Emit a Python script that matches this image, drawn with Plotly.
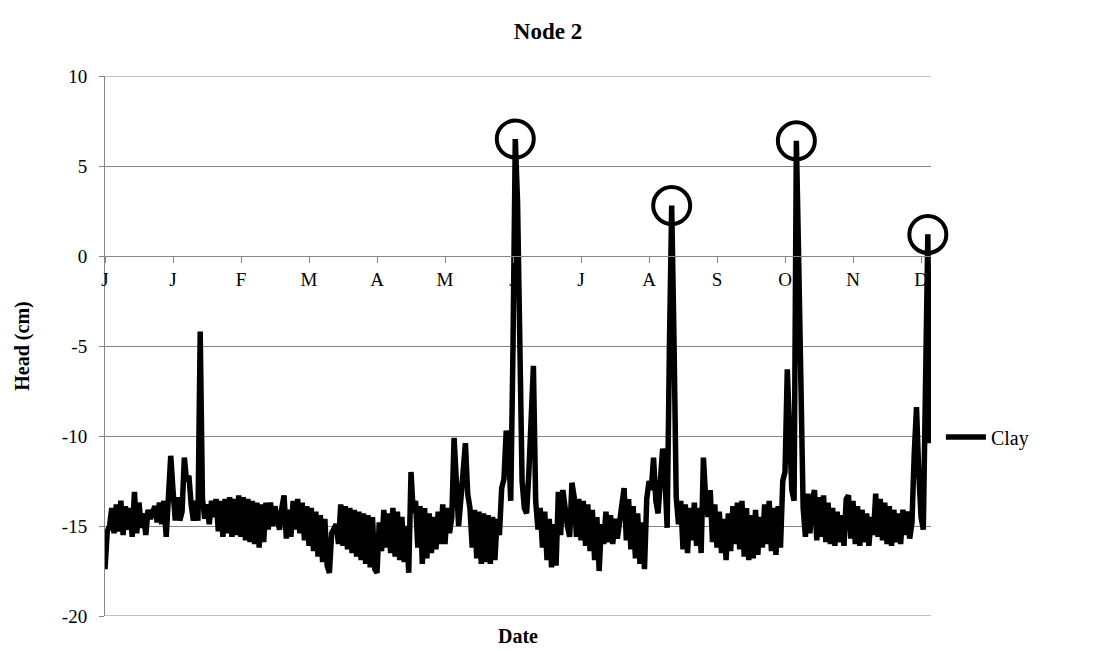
import numpy as np
import plotly.graph_objects as go

# Month initials placed every 30 days along the date axis
month_labels = ["J", "J", "F", "M", "A", "M", "J", "J", "A", "S", "O", "N", "D"]
tick_days = [0, 30, 60, 90, 120, 150, 180, 210, 240, 270, 300, 330, 360]

# Head axis ticks, written with a plain hyphen for negatives
head_ticks = [-20, -15, -10, -5, 0, 5, 10]
head_tick_text = ["-20", "-15", "-10", "-5", "0", "5", "10"]

# Daily pressure head (cm) at node 2 for the clay profile, in 30-day blocks
head_d000 = [-17.4, -15.3, -15.0, -14.0, -15.4, -13.8, -15.3, -13.6, -15.5, -13.9,
             -15.2, -14.0, -15.6, -13.1, -15.4, -13.7, -15.1, -14.3, -15.5, -14.1,
             -14.6, -14.3, -13.9, -14.8, -13.7, -14.9, -13.6, -15.6, -13.5, -11.1]
head_d030 = [-13.0, -14.7, -13.4, -14.7, -14.2, -11.2, -12.5, -12.2, -13.8, -14.7,
             -13.6, -14.7, -4.2, -13.5, -14.6, -13.8, -14.9, -13.6, -14.5, -13.5,
             -15.3, -13.6, -15.6, -13.5, -15.4, -13.4, -15.6, -13.5, -15.5, -13.3]
head_d060 = [-15.6, -13.4, -15.8, -13.5, -15.9, -13.6, -16.0, -13.7, -16.2, -13.8,
             -15.9, -13.7, -15.2, -13.7, -15.0, -13.9, -14.6, -15.2, -14.0, -13.3,
             -15.7, -14.1, -15.6, -13.6, -15.2, -13.5, -15.4, -13.7, -15.8, -13.9]
head_d090 = [-16.1, -14.0, -16.4, -14.2, -16.7, -14.4, -17.0, -14.6, -17.2, -17.6,
             -15.4, -15.1, -14.9, -16.0, -13.8, -16.1, -13.9, -16.3, -14.0, -16.5,
             -14.1, -16.7, -14.2, -16.9, -14.3, -17.1, -14.4, -17.3, -14.5, -17.4]
head_d120 = [-17.6, -14.8, -16.4, -14.1, -16.2, -14.3, -16.5, -14.0, -16.7, -14.2,
             -16.9, -14.5, -17.0, -15.0, -17.6, -12.0, -14.3, -13.6, -16.2, -13.9,
             -17.1, -14.0, -16.8, -14.3, -16.5, -14.5, -16.3, -14.2, -16.0, -13.8]
head_d150 = [-16.0, -14.0, -15.4, -14.5, -10.1, -12.5, -15.0, -13.5, -11.5, -10.4,
             -13.2, -14.0, -16.2, -14.1, -16.8, -14.2, -17.1, -14.3, -17.0, -14.4,
             -17.1, -14.5, -16.9, -14.6, -15.5, -12.9, -12.4, -9.7, -10.6, -13.6]
head_d180 = [-5.0, 6.5, 3.0, -6.0, -12.5, -14.0, -14.3, -12.0, -8.0, -6.1,
             -13.6, -15.2, -14.0, -16.2, -14.2, -16.9, -14.6, -17.3, -14.9, -17.2,
             -13.1, -15.5, -13.0, -14.1, -15.0, -15.6, -12.6, -13.4, -15.6, -13.5]
head_d210 = [-15.8, -13.6, -16.1, -13.8, -16.4, -14.1, -16.9, -14.5, -17.5, -14.9,
             -16.0, -14.2, -15.9, -14.4, -16.0, -14.6, -15.7, -14.8, -13.6, -12.9,
             -15.8, -13.5, -16.3, -13.9, -16.8, -14.3, -17.1, -14.8, -17.4, -13.5]
head_d240 = [-12.5, -13.0, -11.2, -13.6, -14.3, -12.0, -10.7, -12.2, -15.1, -5.0,
             2.8, -4.5, -13.4, -14.9, -13.6, -16.3, -13.8, -16.5, -14.0, -15.8,
             -13.7, -16.1, -14.0, -16.5, -11.2, -13.5, -14.5, -13.0, -15.9, -13.8]
head_d270 = [-16.2, -14.2, -16.5, -14.6, -16.9, -14.3, -16.4, -13.9, -16.0, -13.7,
             -16.3, -13.6, -16.7, -14.0, -16.9, -14.4, -16.8, -14.1, -16.6, -14.5,
             -16.2, -13.8, -16.0, -13.6, -16.4, -14.0, -16.6, -13.9, -16.2, -12.5]
head_d300 = [-12.0, -6.3, -9.5, -13.0, -13.6, 6.4, 0.0, -9.0, -14.0, -15.6,
             -13.2, -15.4, -13.6, -13.0, -15.8, -13.4, -15.6, -13.3, -15.9, -13.7,
             -16.0, -14.0, -16.1, -14.2, -15.9, -14.4, -16.1, -13.5, -13.3, -15.7]
head_d330 = [-13.6, -16.0, -13.9, -16.1, -14.1, -15.9, -14.3, -16.1, -14.5, -15.5,
             -13.2, -15.6, -13.5, -15.8, -13.7, -16.0, -13.9, -16.1, -14.1, -15.9,
             -14.3, -16.0, -14.1, -15.5, -14.2, -15.7, -14.8, -11.0, -8.4, -12.0]
head_d360 = [-14.5, -15.2, -5.0, 1.2, -10.4]

head_clay = np.array(head_d000 + head_d030 + head_d060 + head_d090 + head_d120
                     + head_d150 + head_d180 + head_d210 + head_d240 + head_d270
                     + head_d300 + head_d330 + head_d360)
days = np.arange(len(head_clay))

# Ring the positive-head peaks (local maxima above zero)
prev_v = np.r_[-np.inf, head_clay[:-1]]
next_v = np.r_[head_clay[1:], -np.inf]
peak_idx = np.where((head_clay > 0) & (head_clay >= prev_v) & (head_clay >= next_v))[0]

grid = "#868686"
serif = "Liberation Serif, Times New Roman, serif"

fig = go.Figure()
fig.add_trace(go.Scatter(
    x=days, y=head_clay, mode="lines", name="Clay",
    line=dict(color="black", width=5.5),
))
fig.add_trace(go.Scatter(
    x=days[peak_idx], y=head_clay[peak_idx], mode="markers", showlegend=False,
    marker=dict(symbol="circle-open", size=37, color="black",
                line=dict(color="black", width=4)),
    cliponaxis=False, hoverinfo="skip",
))

# Gridlines at the two ends of the head range
for edge in (head_ticks[0], head_ticks[-1]):
    fig.add_shape(type="line", xref="paper", yref="y", x0=0, x1=1, y0=edge, y1=edge,
                  line=dict(color=grid, width=1), layer="below")

fig.update_layout(
    width=1096, height=651,
    margin=dict(l=105, r=165, t=76, b=35),
    paper_bgcolor="white", plot_bgcolor="white",
    font=dict(family=serif, size=19, color="black"),
    title=dict(text="<b>Node 2</b>", x=0.5, xref="container", xanchor="center",
               y=1 - 31 / 651, yref="container", yanchor="middle",
               font=dict(family=serif, size=23, color="black")),
    showlegend=True,
    legend=dict(x=1.012, xanchor="left", y=(616 - 437) / 540, yanchor="middle",
                font=dict(family=serif, size=20, color="black"),
                bgcolor="rgba(0,0,0,0)", itemwidth=40),
    xaxis=dict(
        range=[0, 364.4], tickmode="array", tickvals=tick_days, ticktext=month_labels,
        anchor="free", position=2 / 3, showline=True, linecolor=grid, linewidth=1,
        ticks="outside", ticklen=6, tickcolor=grid, showgrid=False, zeroline=False,
        tickfont=dict(family=serif, size=19, color="black"),
    ),
    yaxis=dict(
        range=[-20, 10], tickmode="array", tickvals=head_ticks,
        ticktext=head_tick_text, showgrid=True, gridcolor=grid, gridwidth=1,
        showline=True, linecolor=grid, linewidth=1, ticks="outside", ticklen=5,
        tickcolor=grid, zeroline=False, ticklabelstandoff=8,
        tickfont=dict(family=serif, size=19, color="black"),
        title=dict(text="<b>Head (cm)</b>", standoff=26,
                   font=dict(family=serif, size=20, color="black")),
    ),
)

# Axis title below the plot area (the date axis itself sits at zero head)
fig.add_annotation(text="<b>Date</b>", xref="paper", yref="paper", x=0.5, y=0,
                   yshift=-20, yanchor="middle", showarrow=False,
                   font=dict(family=serif, size=20, color="black"))

fig.write_html("out.html")
